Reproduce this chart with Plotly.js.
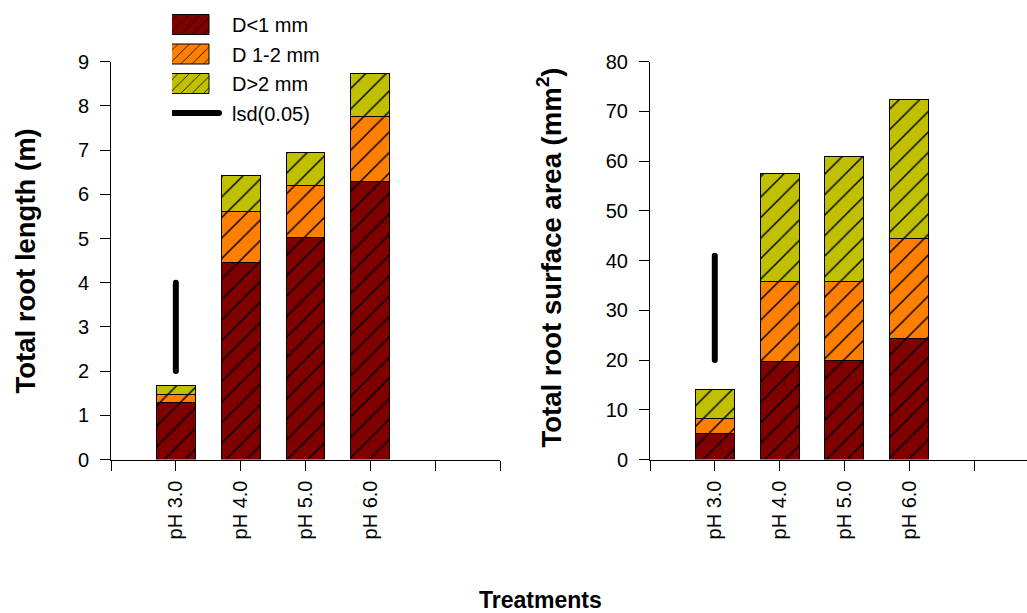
<!DOCTYPE html>
<html><head><meta charset="utf-8">
<script src="https://cdn.plot.ly/plotly-3.0.1.min.js"></script>
<style>
body{margin:0;background:#fff}
#chart{width:1027px;height:613px}
.scatterlayer .js-line{stroke-linecap:round}
.legend path.js-line{stroke-linecap:round}
</style></head><body><div id="chart"></div>
<script>
// ---- data ----
const categories = ['pH 3.0', 'pH 4.0', 'pH 5.0', 'pH 6.0'];
const seriesNames = ['D<1 mm', 'D 1-2 mm', 'D>2 mm'];
// Total root length (m), stacked components
const lengthLt1 = [1.29, 4.45, 5.02, 6.30];
const length1to2 = [0.19, 1.17, 1.18, 1.46];
const lengthGt2 = [0.19, 0.81, 0.74, 0.98];
// Total root surface area (mm2), stacked components
const areaLt1 = [5.2, 19.8, 20.0, 24.4];
const area1to2 = [3.0, 15.9, 15.7, 20.1];
const areaGt2 = [5.9, 21.8, 25.2, 27.9];
// lsd(0.05) bars: [start, end], drawn at first treatment
const lsdLength = [2.0, 4.0];
const lsdArea = [20, 41];

const colors = ['#800000', '#FF8000', '#C0C000'];
const pos = categories.map((c, i) => i + 1);
const FONT = 'Arial, "Liberation Sans", sans-serif';

function barTrace(name, vals, ci, xa, ya, showleg) {
  return {
    type: 'bar', name: name, x: pos, y: vals, xaxis: xa, yaxis: ya,
    width: 0.6, showlegend: showleg, legendgroup: 'g' + ci,
    hovertext: categories, hoverinfo: 'text+y+name', textposition: 'none',
    marker: {
      color: colors[ci],
      line: {color: '#000', width: 1},
      pattern: {shape: '/', size: 14.5, solidity: 0.1, fgcolor: '#000', bgcolor: colors[ci], fillmode: 'replace'}
    }
  };
}

const traces = [
  barTrace(seriesNames[0], lengthLt1, 0, 'x', 'y', true),
  barTrace(seriesNames[1], length1to2, 1, 'x', 'y', true),
  barTrace(seriesNames[2], lengthGt2, 2, 'x', 'y', true),
  {type: 'scatter', mode: 'lines', name: 'lsd(0.05)', x: [pos[0], pos[0]], y: lsdLength,
   xaxis: 'x', yaxis: 'y', line: {color: '#000', width: 6}, showlegend: true, legendgroup: 'g3'},
  barTrace(seriesNames[0], areaLt1, 0, 'x2', 'y2', false),
  barTrace(seriesNames[1], area1to2, 1, 'x2', 'y2', false),
  barTrace(seriesNames[2], areaGt2, 2, 'x2', 'y2', false),
  {type: 'scatter', mode: 'lines', name: 'lsd(0.05)', x: [pos[0], pos[0]], y: lsdArea,
   xaxis: 'x2', yaxis: 'y2', line: {color: '#000', width: 6}, showlegend: false, legendgroup: 'g3'}
];

const W = 1027, H = 613;
const yBot = (H - 459.5) / H, yTop = (H - 61.7) / H;
const xAxisCommon = {
  tickvals: pos, ticktext: categories, tickangle: -90,
  ticks: 'outside', ticklen: 10, tickwidth: 1, tickcolor: '#000', ticklabelstandoff: 2,
  minor: {tick0: 0, dtick: 1, ticks: 'outside', ticklen: 10, tickwidth: 1, tickcolor: '#000', showgrid: false},
  showline: true, linecolor: '#000', linewidth: 1, showgrid: false, zeroline: false,
  tickfont: {family: FONT, size: 20, color: '#000'}, fixedrange: true
};
const yAxisCommon = {
  ticks: 'outside', ticklen: 10, tickwidth: 1, tickcolor: '#000', ticklabelstandoff: 7,
  showline: true, linecolor: '#000', linewidth: 1, showgrid: false, zeroline: false,
  tickfont: {family: FONT, size: 20, color: '#000'}, fixedrange: true
};

const layout = {
  width: W, height: H, margin: {l: 0, r: 0, t: 0, b: 0},
  paper_bgcolor: '#fff', plot_bgcolor: 'rgba(0,0,0,0)',
  barmode: 'stack', bargap: 0.4,
  font: {family: FONT, color: '#000'},
  xaxis: Object.assign({}, xAxisCommon, {domain: [111 / W, 500 / W], range: [0, 6], anchor: 'y'}),
  yaxis: Object.assign({}, yAxisCommon, {domain: [yBot, yTop], range: [0, 9], dtick: 1, anchor: 'x'}),
  xaxis2: Object.assign({}, xAxisCommon, {domain: [650 / W, 1], range: [0, 377 / 64.8], anchor: 'y2'}),
  yaxis2: Object.assign({}, yAxisCommon, {domain: [yBot, yTop], range: [0, 80], dtick: 10, anchor: 'x2'}),
  legend: {x: 172 / W, y: 1 - 5 / H, xanchor: 'left', yanchor: 'top', traceorder: 'grouped', tracegroupgap: 0.5,
           itemwidth: 50, font: {family: FONT, size: 20, color: '#000'}, bgcolor: 'rgba(0,0,0,0)'},
  annotations: [
    {text: '<b>Total root length (m)</b>', textangle: -90, xref: 'paper', yref: 'paper',
     x: 25 / W, y: 1 - 261.5 / H, xanchor: 'center', yanchor: 'middle', showarrow: false,
     font: {family: FONT, size: 27.5, color: '#000'}},
    {text: '<b>Total root surface area (mm<sup>2</sup>)</b>', textangle: -90, xref: 'paper', yref: 'paper',
     x: 550 / W, y: 1 - 257.5 / H, xanchor: 'center', yanchor: 'middle', showarrow: false,
     font: {family: FONT, size: 27.5, color: '#000'}},
    {text: '<b>Treatments</b>', xref: 'paper', yref: 'paper',
     x: 540 / W, y: 1 - 600 / H, xanchor: 'center', yanchor: 'middle', showarrow: false,
     font: {family: FONT, size: 23, color: '#000'}}
  ]
};

const gd = document.getElementById('chart');
function fixLegend() {
  const base = gd.getBoundingClientRect();
  gd.querySelectorAll('.legend g.traces').forEach(g => {
    g.querySelectorAll('.legendpoints path').forEach(p => {
      p.setAttribute('d', 'M-43,-10H7V10H-43Z');
    });
    g.querySelectorAll('path').forEach(p => {
      if (p.closest('.legendpoints')) return;
      const d = p.getAttribute('d') || '';
      const m = d.match(/^M\s*(-?[\d.]+)\s*,\s*(-?[\d.]+)\s*h\s*(-?[\d.]+)/);
      if (!m) return;
      const sw = parseFloat(p.style.strokeWidth || p.getAttribute('stroke-width') || '0');
      if (!(sw > 3)) return;
      const oldStart = parseFloat(m[1]);
      const rect = p.getBoundingClientRect();
      const left = rect.left - base.left;
      const newStart = oldStart + (172 - left);
      p.setAttribute('d', 'M' + newStart + ',' + m[2] + 'h47');
      p.style.strokeLinecap = 'round';
    });
  });
}
Plotly.newPlot(gd, traces, layout, {displayModeBar: false}).then(() => {
  fixLegend();
  gd.on('plotly_afterplot', fixLegend);
});
</script></body></html>
